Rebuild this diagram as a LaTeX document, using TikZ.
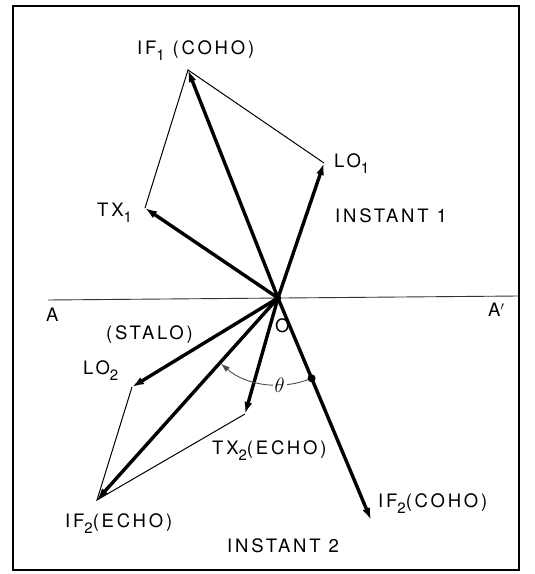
\documentclass[tikz,border=0pt]{standalone}
\usepackage{fontspec}
\setmainfont{TeX Gyre Heros}
\newfontfamily\vdfont[LetterSpace=15]{TeX Gyre Heros}
\usetikzlibrary{arrows.meta,positioning,calc}
\newcommand\vdsub[1]{\raisebox{-0.55ex}{\fontsize{15}{15}\selectfont #1}}
\tikzset{
  vd/frame/.style={draw=black, line width=1.3pt},
  vd/axis/.style={draw=black!80, line width=0.9pt},
  vd/vector/.style={-{Latex[length=12pt,width=8pt]}, line width=3.4pt, draw=black},
  vd/sum/.style={draw=black, line width=1pt},
  vd/angle/.style={-{Latex[length=9pt,width=6pt]}, line width=0.9pt, draw=black!70},
  vd/label/.style={font=\vdfont\fontsize{18.5}{20}\selectfont, inner sep=0pt, anchor=base west},
  vd/theta/.style={font=\fontsize{20}{20}\selectfont, fill=white, inner sep=2pt}
}

\begin{document}
\begin{tikzpicture}[x=1pt,y=1pt]
  \useasboundingbox (0,0) rectangle (535,574);
  \draw[vd/frame] (13,4) rectangle (519,568);
  % points of the two instants
  \coordinate (O) at (278,276);
  \coordinate (IF1) at (188,504);
  \coordinate (TX1) at (145,366);
  \coordinate (LO1) at (324,411);
  \coordinate (LO2) at (132,187);
  \coordinate (IF2E) at (97,74);
  \coordinate (TX2) at (245,160);
  \coordinate (IF2C) at (371,54);
  \coordinate (Aend) at (48,274);
  \coordinate (Bend) at (519,278);
  % labels
  \node[vd/label] (lif1) at (137,519) {IF\vdsub{1} (COHO)};
  \node[vd/label] (llo1) at (334,406) {LO\vdsub{1}};
  \node[vd/label] (ins1) at (335,351) {INSTANT 1};
  \node[vd/label] (ltx1) at (97,357) {TX\vdsub{1}};
  \node[vd/label] (la) at (46,252) {A};
  \node[vd/label] (lb) at (488,257) {A$'$};
  \node[vd/label] (lo) at (275,241) {O};
  \node[vd/label] (stalo) at (106,234) {(STALO)};
  \node[vd/label] (llo2) at (83,199) {LO\vdsub{2}};
  \node[vd/label] (ltx2) at (212,119) {TX\vdsub{2}(ECHO)};
  \node[vd/label] (lif2e) at (65,46) {IF\vdsub{2}(ECHO)};
  \node[vd/label] (lif2c) at (378,66) {IF\vdsub{2}(COHO)};
  \node[vd/label] (ins2) at (227,21) {INSTANT 2};
  % axis and sums
  \draw[vd/axis] (Aend) -- (Bend);
  \draw[vd/sum] (TX1) -- (IF1) -- (LO1);
  \draw[vd/sum] (LO2) -- (IF2E) -- (TX2);
  % vectors
  \draw[vd/vector] (O) -- (IF1);
  \draw[vd/vector] (O) -- (TX1);
  \draw[vd/vector] (O) -- (LO1);
  \draw[vd/vector] (O) -- (LO2);
  \draw[vd/vector] (O) -- (IF2E);
  \draw[vd/vector] (O) -- (TX2);
  \draw[vd/vector] (O) -- (IF2C);
  \fill (O) circle (3.2);
  % phase angle
  \coordinate (dot) at ($(O)+(-67.3:87)$);
  \draw[vd/angle] (dot) arc[start angle=-67.3, end angle=-131, radius=87];
  \fill (dot) circle (4);
  \node[vd/theta] (th) at ($(O)+(-89:87)$) {$\theta$};
\end{tikzpicture}
\end{document}
